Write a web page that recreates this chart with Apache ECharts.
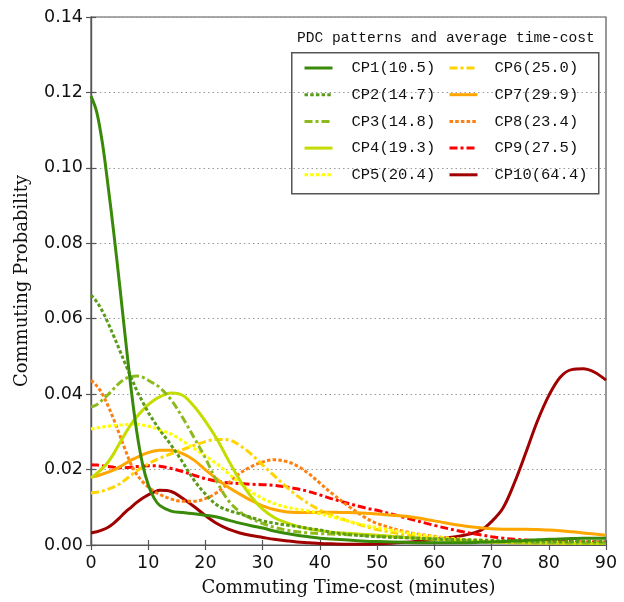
<!DOCTYPE html>
<html>
<head>
<meta charset="utf-8">
<script src="https://cdn.jsdelivr.net/npm/echarts@6/dist/echarts.min.js"></script>
<style>
html,body{margin:0;padding:0;background:#fff;}
#c{width:624px;height:602px;}
</style>
</head>
<body>
<div id="c"></div>
<script>
// Time-cost (minutes) sample points shared by all series
var times = [0,1,2,3,4,5,6,7,8,9,10,11,12,14,16,18,20,22,24,26,28,30,32,34,36,38,40,42,45,48,50,55,60,65,68,70,72,74,76,78,80,82,84,86,88,90];

var names = ['CP1(10.5)','CP2(14.7)','CP3(14.8)','CP4(19.3)','CP5(20.4)','CP6(25.0)','CP7(29.9)','CP8(23.4)','CP9(27.5)','CP10(64.4)'];

var cp1 = [0.119,0.1148,0.1065,0.095,0.0825,0.069,0.055,0.0415,0.030,0.0215,0.016,0.0125,0.0105,0.0090,0.0086,0.0083,0.0079,0.0074,0.0066,0.0058,0.0051,0.0045,0.0037,0.0031,0.0026,0.0022,0.0018,0.0016,0.0013,0.0010,0.0009,0.0007,0.0006,0.0006,0.0007,0.0008,0.0009,0.0011,0.0012,0.0014,0.0015,0.0016,0.0017,0.0018,0.0018,0.0018];
var cp2 = [0.0663,0.0645,0.062,0.0588,0.0553,0.0517,0.048,0.0445,0.041,0.038,0.0352,0.0328,0.0305,0.0265,0.022,0.0172,0.0135,0.0106,0.0092,0.0083,0.0073,0.0064,0.0058,0.0053,0.0049,0.0044,0.0040,0.0034,0.0028,0.0024,0.0022,0.0019,0.0016,0.0014,0.0013,0.0012,0.0011,0.0011,0.0010,0.0010,0.0010,0.0009,0.0009,0.0009,0.0009,0.0009];
var cp3 = [0.0366,0.0372,0.0385,0.0399,0.0415,0.043,0.0441,0.0447,0.0448,0.0445,0.0437,0.0428,0.0418,0.0385,0.0338,0.0285,0.023,0.0168,0.0118,0.0088,0.007,0.0057,0.0047,0.0040,0.0035,0.0032,0.0030,0.0029,0.0027,0.0025,0.0023,0.0020,0.0016,0.0012,0.0010,0.0009,0.0008,0.0007,0.0007,0.0006,0.0006,0.0006,0.0005,0.0005,0.0005,0.0005];
var cp4 = [0.0178,0.019,0.0203,0.022,0.0243,0.027,0.0296,0.032,0.034,0.0357,0.0372,0.0384,0.0393,0.0403,0.0397,0.0368,0.0328,0.0281,0.0225,0.0172,0.0128,0.0095,0.0073,0.0060,0.0050,0.0043,0.0038,0.0034,0.0031,0.0028,0.0026,0.0020,0.0015,0.0011,0.0009,0.0008,0.0007,0.0006,0.0006,0.0005,0.0005,0.0005,0.0004,0.0004,0.0004,0.0004];
var cp5 = [0.0308,0.031,0.0313,0.0315,0.0317,0.0318,0.0319,0.032,0.032,0.0318,0.0315,0.0311,0.0305,0.0294,0.0276,0.0256,0.0236,0.0215,0.019,0.0164,0.0141,0.0123,0.011,0.0101,0.0095,0.009,0.0083,0.0075,0.0063,0.0052,0.0046,0.0033,0.0022,0.0015,0.0012,0.0010,0.0009,0.0008,0.0008,0.0007,0.0007,0.0007,0.0006,0.0006,0.0006,0.0006];
var cp6 = [0.0138,0.014,0.0143,0.0148,0.0154,0.0162,0.0173,0.0185,0.0196,0.0206,0.0215,0.0223,0.023,0.0242,0.0253,0.0264,0.0274,0.028,0.0279,0.0264,0.0241,0.0212,0.0184,0.0156,0.0131,0.011,0.0093,0.008,0.0063,0.0049,0.0041,0.0027,0.0018,0.0012,0.0010,0.0008,0.0007,0.0007,0.0006,0.0006,0.0006,0.0005,0.0005,0.0005,0.0005,0.0005];
var cp7 = [0.018,0.0183,0.0188,0.0193,0.0199,0.0207,0.0216,0.0225,0.0232,0.0239,0.0245,0.0249,0.0251,0.0251,0.0242,0.0225,0.0199,0.0175,0.0153,0.0135,0.0118,0.0104,0.0094,0.0088,0.0086,0.0086,0.0087,0.0087,0.0086,0.0084,0.0082,0.0076,0.0064,0.0051,0.0046,0.0043,0.0042,0.0042,0.0042,0.0041,0.0040,0.0038,0.0035,0.0032,0.0029,0.0026];
var cp8 = [0.0437,0.0422,0.040,0.0368,0.0332,0.0292,0.0252,0.0214,0.0187,0.0168,0.0154,0.0143,0.0134,0.0122,0.0116,0.0116,0.0123,0.0139,0.0164,0.019,0.0208,0.022,0.0226,0.0222,0.021,0.019,0.0164,0.0138,0.0103,0.0072,0.0057,0.0035,0.0023,0.0014,0.0010,0.0008,0.0007,0.0006,0.0006,0.0005,0.0005,0.0005,0.0005,0.0005,0.0005,0.0005];
var cp9 = [0.0213,0.0212,0.021,0.0208,0.0206,0.0205,0.0205,0.0206,0.0208,0.0209,0.021,0.021,0.0209,0.0203,0.0195,0.0185,0.0176,0.0169,0.0165,0.0163,0.0161,0.016,0.0158,0.0154,0.0149,0.0142,0.0133,0.0123,0.011,0.0098,0.0092,0.0072,0.0052,0.0035,0.0027,0.0022,0.0018,0.0015,0.0013,0.0011,0.0010,0.0009,0.0009,0.0008,0.0008,0.0008];
var cp10 = [0.0032,0.0035,0.004,0.0047,0.0058,0.0072,0.0087,0.010,0.0113,0.0124,0.0133,0.014,0.0145,0.0142,0.0124,0.0102,0.0078,0.0057,0.0042,0.0032,0.0025,0.002,0.0015,0.0011,0.0008,0.0006,0.0004,0.0003,0.0002,0.0002,0.0003,0.0007,0.0015,0.0025,0.0038,0.0062,0.0098,0.0165,0.0245,0.0328,0.0396,0.0445,0.0465,0.0467,0.0458,0.0437];

var yTicks = ['0.00','0.02','0.04','0.06','0.08','0.10','0.12','0.14'];

var values = [cp1,cp2,cp3,cp4,cp5,cp6,cp7,cp8,cp9,cp10];
var colors = ['#3a8a0a','#5a9c18','#8cba1c','#c4dc00','#ffff00','#ffd400','#ffa600','#ff8010','#ff0000','#a00000'];
var DOT = [3.5,2.2];
var DASHDOT = [8,3,3,3];
var types = ['solid',DOT,DASHDOT,'solid',DOT,DASHDOT,'solid',DOT,DASHDOT,'solid'];

var series = values.map(function(v, i){
  return {
    name: names[i],
    type: 'line',
    smooth: 0.35,
    symbol: 'none',
    z: 10 - i,
    lineStyle: {color: colors[i], width: 3, type: types[i]},
    itemStyle: {color: colors[i]},
    data: times.map(function(t, j){ return [t, v[j]]; })
  };
});

var chart = echarts.init(document.getElementById('c'), null, {renderer: 'canvas'});
var axisLineStyle = {color: '#555', width: 1.2};
var tickFont = {fontFamily: 'DejaVu Sans', fontSize: 17.5, color: '#111'};
var legendText = {fontFamily: 'Liberation Mono', fontSize: 15.5, color: '#111', lineHeight: 16};
var hiddenSymbol = {color: 'rgba(0,0,0,0)', borderColor: 'rgba(0,0,0,0)', borderWidth: 0, opacity: 0};

chart.setOption({
  animation: false,
  backgroundColor: '#fff',
  grid: {left: 91, right: 18, top: 17, bottom: 57, show: true, borderColor: '#555', borderWidth: 1.2, backgroundColor: 'transparent'},
  xAxis: [{
    type: 'value', min: 0, max: 90, interval: 10, position: 'bottom',
    name: 'Commuting Time-cost (minutes)', nameLocation: 'middle', nameGap: 34,
    nameTextStyle: {fontFamily: 'DejaVu Serif', fontSize: 18, color: '#111'},
    axisLine: {show: true, lineStyle: axisLineStyle},
    axisTick: {show: true, inside: true, length: 5, lineStyle: axisLineStyle},
    axisLabel: Object.assign({margin: 9}, tickFont),
    splitLine: {show: false}
  },{
    type: 'value', min: 0, max: 90, interval: 10, position: 'top',
    axisLine: {show: true, lineStyle: axisLineStyle},
    axisTick: {show: true, inside: true, length: 5, lineStyle: axisLineStyle},
    axisLabel: {show: false}, splitLine: {show: false}
  }],
  yAxis: [{
    type: 'value', min: 0, max: 0.14, interval: 0.02, position: 'left',
    name: 'Commuting Probability', nameLocation: 'middle', nameGap: 60,
    nameTextStyle: {fontFamily: 'DejaVu Serif', fontSize: 18, color: '#111'},
    axisLine: {show: true, lineStyle: axisLineStyle},
    axisTick: {show: true, inside: true, length: 5, lineStyle: axisLineStyle},
    axisLabel: Object.assign({margin: 8, formatter: function(v){ return yTicks[Math.round(v/0.02)]; }}, tickFont),
    splitLine: {show: true, lineStyle: {color: '#999', type: [1.5,3], width: 1}}
  },{
    type: 'value', min: 0, max: 0.14, interval: 0.02, position: 'right',
    axisLine: {show: true, lineStyle: axisLineStyle},
    axisTick: {show: true, inside: true, length: 5, lineStyle: axisLineStyle},
    axisLabel: {show: false}, splitLine: {show: false}
  }],
  legend: [{
    data: names.slice(0,5), orient: 'vertical', left: 298, top: 55,
    itemWidth: 28, itemHeight: 14, itemGap: 10.7,
    itemStyle: hiddenSymbol,
    lineStyle: {width: 3},
    textStyle: Object.assign({padding: [0,0,0,14]}, legendText)
  },{
    data: names.slice(5), orient: 'vertical', left: 443, top: 55,
    itemWidth: 28, itemHeight: 14, itemGap: 10.7,
    itemStyle: hiddenSymbol,
    lineStyle: {width: 3},
    textStyle: Object.assign({padding: [0,0,0,12]}, legendText)
  }],
  graphic: [{
    type: 'rect', left: 291, top: 52, z: 100,
    shape: {width: 307, height: 141},
    style: {fill: 'rgba(0,0,0,0)', stroke: '#555', lineWidth: 1.5}
  },{
    type: 'text', left: 297, top: 31, z: 100,
    style: {text: 'PDC patterns and average time-cost', font: '14.6px "Liberation Mono"', fill: '#111'}
  }],
  series: series
});
</script>
</body>
</html>
